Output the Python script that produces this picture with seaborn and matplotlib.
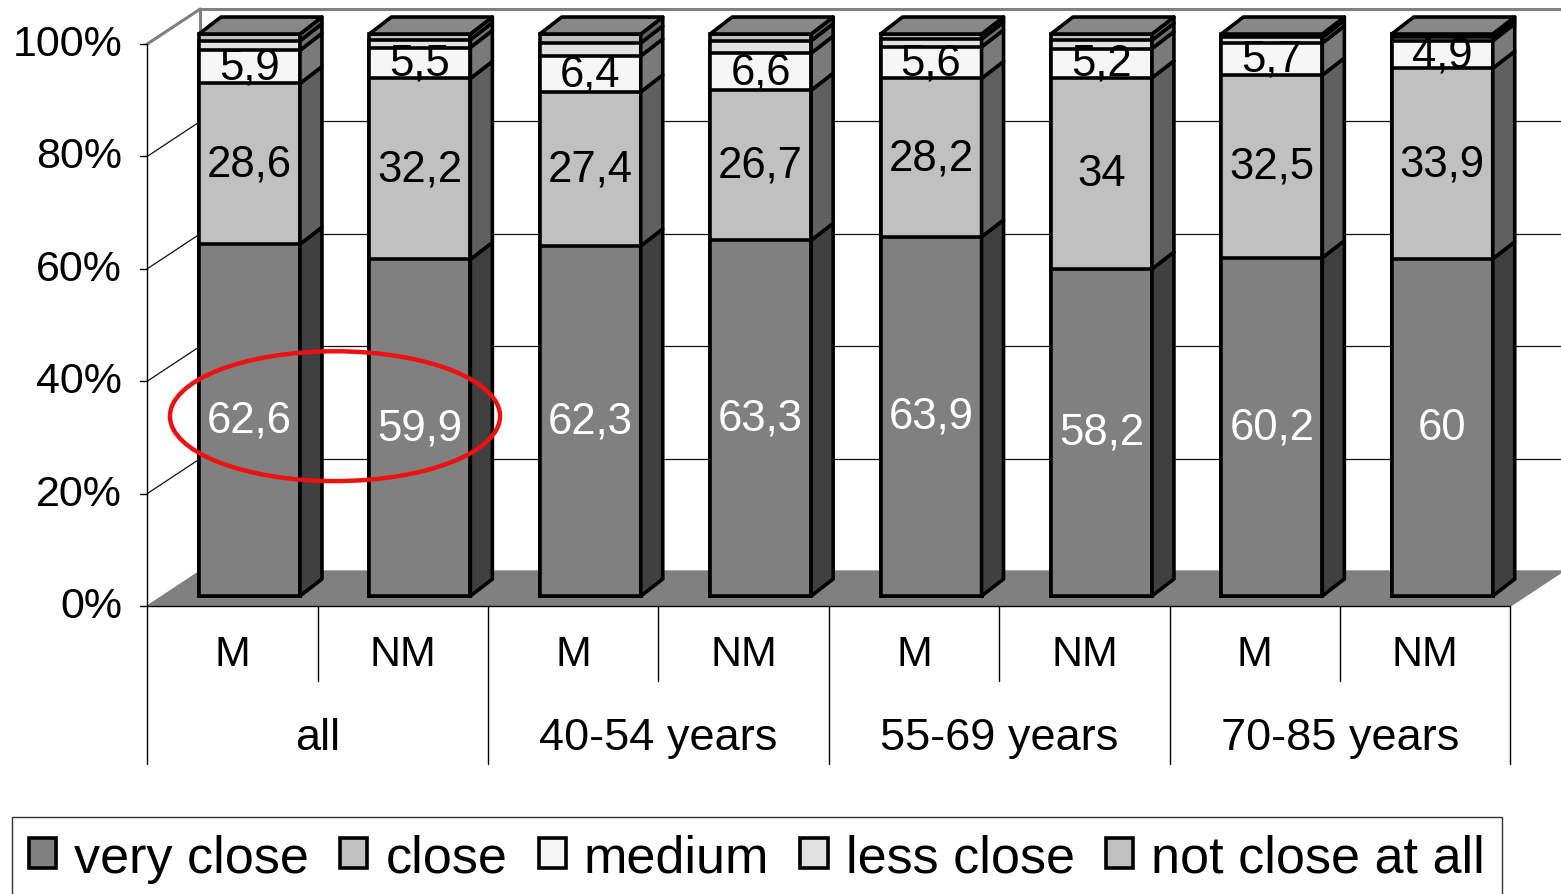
import numpy as np
import pandas as pd
import matplotlib
matplotlib.use("Agg")
import matplotlib.pyplot as plt
from matplotlib.patches import Polygon, Ellipse, Patch
import seaborn as sns

# ---- data ----
groups = ["all", "40-54 years", "55-69 years", "70-85 years"]
subgroups = ["M", "NM"]
very_close = [62.6, 59.9, 62.3, 63.3, 63.9, 58.2, 60.2, 60.0]
close = [28.6, 32.2, 27.4, 26.7, 28.2, 34.0, 32.5, 33.9]
medium = [5.9, 5.5, 6.4, 6.6, 5.6, 5.2, 5.7, 4.9]
less_close = [1.7, 1.4, 2.3, 2.2, 1.4, 1.5, 1.0, 0.6]
not_close_at_all = [1.2, 1.0, 1.6, 1.2, 0.9, 1.1, 0.6, 0.6]
y_ticks = [0, 20, 40, 60, 80, 100]
series_names = ["very close", "close", "medium", "less close", "not close at all"]

series = [very_close, close, medium, less_close, not_close_at_all]
front_colors = ["#808080", "#c0c0c0", "#f6f6f6", "#e2e2e2", "#c0c0c0"]
side_colors = ["#404040", "#606060", "#7a7a7a", "#707070", "#606060"]
top_color = "#888888"
label_colors = ["white", "black", "black", None, None]

bar_keys = [f"{g}|{s}" for g in groups for s in subgroups]
n = len(bar_keys)

sns.set_theme(style="white")
plt.rcParams["font.family"] = ["Liberation Sans", "DejaVu Sans"]
plt.rcParams["text.color"] = "black"

W, H = 1561, 895
fig = plt.figure(figsize=(W / 100, H / 100), dpi=100)
ax = fig.add_axes([0, 0, 1, 1])

# geometry (x in bar slots, y in percent on the bar plane)
bar_w = 0.593
edge_lw = 2.6
depth_dx, depth_dy = 0.129, 3.02          # bar depth
front_dx, front_dy = -0.10, -1.78         # front plane relative to bars
back_dx, back_dy = 0.211, 4.45            # back wall relative to bars
left_front = -0.6
right_front = left_front + n
left_back = left_front + (back_dx - front_dx)
x_min, x_max = -1.464, 7.697
y_min, y_max = -53.02, 106.23

# floor
floor = Polygon([(left_front, front_dy), (right_front, front_dy),
                 (right_front + (back_dx - front_dx), back_dy),
                 (left_back, back_dy)], closed=True,
                facecolor="#808080", edgecolor="#808080", lw=1, zorder=1)
ax.add_patch(floor)

# back wall gridlines and side wall diagonals
for v in y_ticks:
    if 0 < v < 100:
        ax.plot([left_back, x_max + 0.1], [v + back_dy, v + back_dy],
                color="#111111", lw=0.9, zorder=1.5)
    if v > 0:
        ax.plot([left_front, left_back], [v + front_dy, v + back_dy],
                color="#111111" if v < 100 else "#808080",
                lw=0.9 if v < 100 else 2.2, zorder=1.5)
# wall outline
ax.plot([left_back, x_max + 0.1], [100 + back_dy, 100 + back_dy],
        color="#808080", lw=2.2, zorder=1.5)
ax.plot([left_back, left_back], [back_dy, 100 + back_dy],
        color="#808080", lw=2.2, zorder=1.2)

# front value axis
ax.plot([left_front, left_front], [front_dy, 100 + front_dy],
        color="black", lw=1.0, zorder=2)
for v in y_ticks:
    ax.plot([left_front - 0.045, left_front], [v + front_dy, v + front_dy],
            color="black", lw=1.0, zorder=2)
    ax.text(-0.748, v + front_dy, f"{v}%", ha="right", va="center",
            fontsize=31, color="black")

# category axis
ax.plot([left_front, right_front], [front_dy, front_dy], color="black", lw=1.0, zorder=2)
for k in range(n + 1):
    bottom = -29.9 if k % 2 == 0 else -15.12
    ax.plot([left_front + k, left_front + k], [front_dy, bottom],
            color="black", lw=1.0, zorder=2)
for i, key in enumerate(bar_keys):
    ax.text(i + front_dx, -10.3, key.split("|")[1], ha="center", va="center",
            fontsize=31)
for j, g in enumerate(groups):
    ax.text(left_front + 2 * j + 1, -25.1, g, ha="center", va="center", fontsize=32.5)

# stacked front faces: draw cumulative totals from the top layer down
df = pd.DataFrame({"bar": bar_keys})
cums = np.cumsum(np.array(series), axis=0)
for level in range(len(series) - 1, -1, -1):
    df["total"] = cums[level]
    sns.barplot(data=df, x="bar", y="total", order=bar_keys, color=front_colors[level],
                saturation=1, width=bar_w, edgecolor="black", linewidth=edge_lw,
                errorbar=None, ax=ax, zorder=3)

# side and top faces
for i in range(n):
    xr = i + bar_w / 2
    xl = i - bar_w / 2
    lower = 0.0
    for level in range(len(series)):
        upper = cums[level][i]
        ax.add_patch(Polygon([(xr, lower), (xr + depth_dx, lower + depth_dy),
                              (xr + depth_dx, upper + depth_dy), (xr, upper)],
                             closed=True, facecolor=side_colors[level],
                             edgecolor="black", lw=edge_lw, joinstyle="round", zorder=3))
        lower = upper
    top = cums[-1][i]
    ax.add_patch(Polygon([(xl, top), (xr, top), (xr + depth_dx, top + depth_dy),
                          (xl + depth_dx, top + depth_dy)], closed=True,
                         facecolor=top_color, edgecolor="black", lw=edge_lw,
                         joinstyle="round", zorder=3))

# value labels
for level in range(3):
    for i in range(n):
        v = series[level][i]
        mid = cums[level][i] - v / 2
        ax.text(i, mid, f"{v:g}".replace(".", ","), ha="center", va="center",
                fontsize=31.5, color=label_colors[level], zorder=5)

# highlight around the overall group
ax.add_patch(Ellipse((0.502, 32.0), 1.937, 23.1, fill=False, edgecolor="#ee1111",
                     lw=3.2, zorder=6))

ax.set_xlim(x_min, x_max)
ax.set_ylim(y_min, y_max)
ax.axis("off")

# legend
handles = [Patch(facecolor=c, edgecolor="black", linewidth=edge_lw) for c in front_colors]
leg = fig.legend(handles, series_names, loc="upper left",
                 bbox_to_anchor=(12 / W, 1 - 818 / H), ncol=5, fontsize=37.5,
                 frameon=True, fancybox=False, edgecolor="black",
                 handlelength=0.52, handleheight=0.52, handletextpad=0.35,
                 columnspacing=0.6, borderpad=0.32, borderaxespad=0)
leg.get_frame().set_linewidth(1.0)

fig.savefig("out.png", dpi=100, facecolor="white")
